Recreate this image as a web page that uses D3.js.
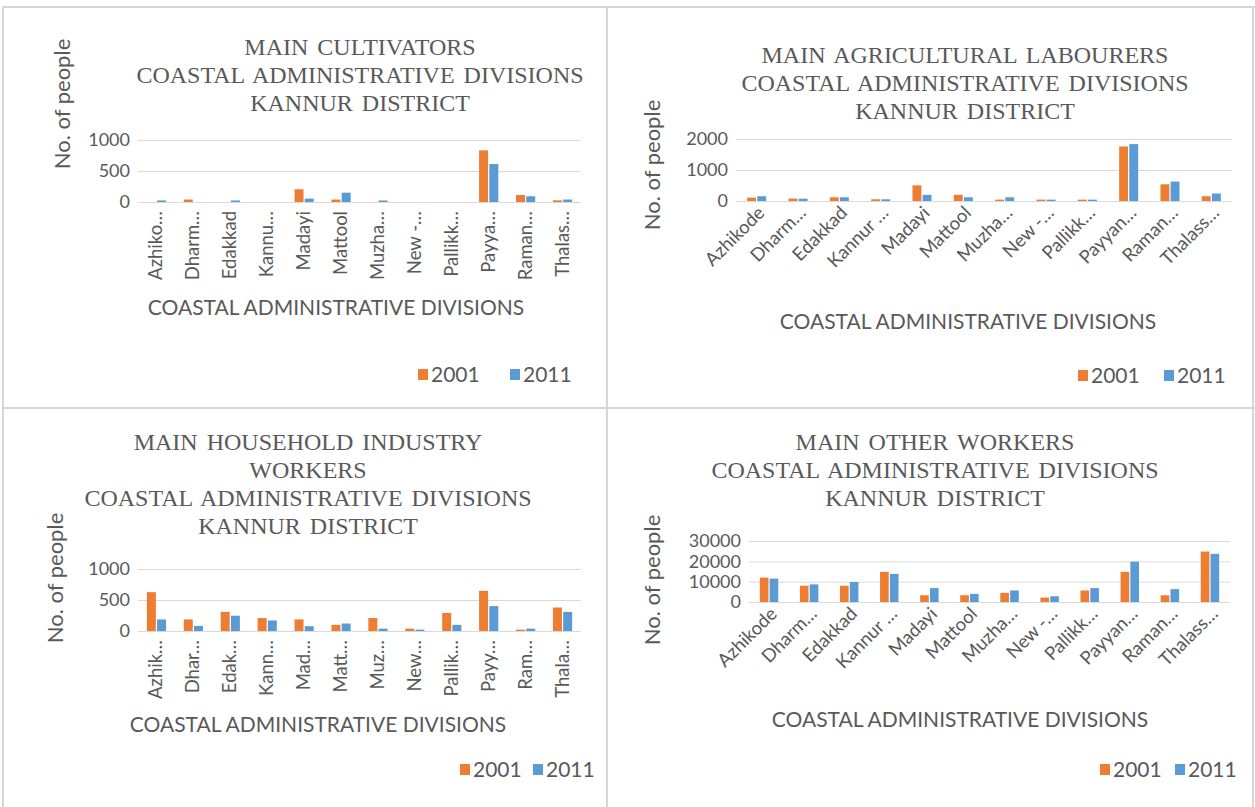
<!DOCTYPE html>
<meta charset="utf-8">
<style>
  body { margin: 0; background: #fff; }
  .title { font-family: "Liberation Serif", serif; font-size: 24px; fill: #595959; word-spacing: 3px; }
  .tick text { font-family: Lato, sans-serif; font-size: 18px; fill: #595959; }
  .catlabel { font-family: Lato, sans-serif; font-size: 18.5px; fill: #595959; }
  .axtitle { font-family: Lato, sans-serif; font-size: 21px; fill: #595959; }
  .ytitle { font-family: Lato, sans-serif; font-size: 22px; fill: #595959; }
  .legend text { font-family: Lato, sans-serif; font-size: 21px; fill: #595959; }
</style>
<body>
<svg width="1255" height="807"></svg>
<script src="https://d3js.org/d3.v7.min.js"></script>
<script>

// series names and colours
var years = ["2001", "2011"];
var yearColors = ["#ED7D31", "#5B9BD5"];

// category labels as printed on each chart (Excel truncates them)
var labelsCultivators = ["Azhiko…", "Dharm…", "Edakkad", "Kannu…", "Madayi", "Mattool", "Muzha…", "New -…", "Pallikk…", "Payya…", "Raman…", "Thalas…"];
var labelsAgri = ["Azhikode", "Dharm…", "Edakkad", "Kannur …", "Madayi", "Mattool", "Muzha…", "New -…", "Pallikk…", "Payyan…", "Raman…", "Thalass…"];
var labelsHousehold = ["Azhik…", "Dhar…", "Edak…", "Kann…", "Mad…", "Matt…", "Muz…", "New…", "Pallik…", "Payy…", "Ram…", "Thala…"];
var labelsOther = ["Azhikode", "Dharm…", "Edakkad", "Kannur …", "Madayi", "Mattool", "Muzha…", "New -…", "Pallikk…", "Payyan…", "Raman…", "Thalass…"];

// values
var cultivators2001 = [0, 40, 0, 0, 205, 40, 0, 0, 0, 833, 113, 27];
var cultivators2011 = [25, 0, 25, 0, 55, 150, 25, 0, 0, 613, 92, 40];
var agri2001 = [110, 80, 120, 55, 505, 198, 44, 44, 44, 1758, 538, 154];
var agri2011 = [154, 75, 120, 55, 198, 120, 120, 44, 44, 1835, 626, 242];
var household2001 = [626, 187, 308, 209, 187, 99, 209, 38, 291, 648, 22, 379];
var household2011 = [187, 82, 247, 170, 77, 121, 38, 22, 99, 401, 38, 308];
var other2001 = [12000, 8000, 8000, 14830, 3330, 3330, 4500, 2170, 5670, 14830, 3330, 24830];
var other2011 = [11500, 8670, 9830, 13830, 6830, 4000, 5670, 2830, 6830, 19830, 6330, 23670];

// axis ticks
var ticksCultivators = [0, 500, 1000];
var ticksAgri = [0, 1000, 2000];
var ticksHousehold = [0, 500, 1000];
var ticksOther = [0, 10000, 20000, 30000];

var titleCultivators = ["MAIN  CULTIVATORS", "COASTAL  ADMINISTRATIVE  DIVISIONS", "KANNUR DISTRICT"];
var titleAgri = ["MAIN  AGRICULTURAL  LABOURERS", "COASTAL  ADMINISTRATIVE  DIVISIONS", "KANNUR DISTRICT"];
var titleHousehold = ["MAIN  HOUSEHOLD INDUSTRY", "WORKERS", "COASTAL  ADMINISTRATIVE  DIVISIONS", "KANNUR DISTRICT"];
var titleOther = ["MAIN  OTHER WORKERS", "COASTAL  ADMINISTRATIVE  DIVISIONS", "KANNUR DISTRICT"];

var svg = d3.select("svg");

// panel frames
var frame = svg.append("g").attr("stroke", "#d6d6d6").attr("stroke-width", 2).attr("fill", "none");
frame.append("line").attr("x1", 3).attr("x2", 1255).attr("y1", 7).attr("y2", 7);
frame.append("line").attr("x1", 3).attr("x2", 3).attr("y1", 7).attr("y2", 807);
frame.append("line").attr("x1", 607).attr("x2", 607).attr("y1", 7).attr("y2", 807);
frame.append("line").attr("x1", 3).attr("x2", 1255).attr("y1", 408).attr("y2", 408);
frame.append("line").attr("x1", 1253).attr("x2", 1253).attr("y1", 7).attr("y2", 807);

function drawPanel(p) {
    var g = svg.append("g");
    var cats = p.labels.map(function (d, i) { return i; });

    var x0 = d3.scaleBand().domain(cats).range([p.left, p.right]).paddingInner(p.pad).paddingOuter(p.pad / 2);
    var x1 = d3.scaleBand().domain(years).range([0, x0.bandwidth()]).paddingInner(0.12);
    var y = d3.scaleLinear().domain([0, d3.max(p.ticks)]).range([p.base, p.top]);

    // title
    g.selectAll(".title").data(p.title).enter().append("text")
        .attr("class", "title")
        .attr("x", p.titleX)
        .attr("y", function (d, i) { return p.titleY + i * 28; })
        .attr("text-anchor", "middle")
        .attr("dy", "0.35em")
        .text(function (d) { return d; });

    // gridlines + tick labels
    var yAxis = d3.axisLeft(y).tickValues(p.ticks).tickSize(-(p.right - p.left)).tickPadding(8).tickFormat(d3.format("d"));
    var ax = g.append("g").attr("transform", "translate(" + p.left + ",0)").call(yAxis);
    ax.select(".domain").remove();
    ax.selectAll(".tick line").attr("stroke", "#d9d9d9");
    ax.selectAll(".tick text").attr("x", -8);

    // bars
    var series = [p.v2001, p.v2011];
    years.forEach(function (yr, k) {
        g.selectAll(".bar" + yr).data(series[k]).enter().append("rect")
            .attr("x", function (d, i) { return x0(i) + x1(yr); })
            .attr("width", x1.bandwidth())
            .attr("y", function (d) { return y(d); })
            .attr("height", function (d) { return p.base - y(d); })
            .attr("fill", yearColors[k]);
    });

    // category labels
    g.selectAll(".catlabel").data(p.labels).enter().append("text")
        .attr("class", "catlabel")
        .attr("text-anchor", "end")
        .attr("transform", function (d, i) {
            var cx = x0(i) + x0.bandwidth() / 2;
            if (p.rot === -90) return "translate(" + (cx + 6) + "," + (p.base + 9) + ") rotate(-90)";
            return "translate(" + (cx + 9) + "," + (p.base + 13) + ") rotate(-45)";
        })
        .text(function (d) { return d; });

    // axis titles
    g.append("text").attr("class", "axtitle")
        .attr("x", p.xTitle[0]).attr("y", p.xTitle[1])
        .attr("text-anchor", "middle").attr("dy", "0.35em")
        .text("COASTAL ADMINISTRATIVE DIVISIONS");

    g.append("text").attr("class", "ytitle")
        .attr("transform", "translate(" + p.yTitle[0] + "," + p.yTitle[1] + ") rotate(-90)")
        .attr("text-anchor", "middle").attr("dy", "0.35em")
        .text("No. of people");

    // legend
    var leg = g.append("g").attr("class", "legend");
    years.forEach(function (yr, k) {
        leg.append("rect").attr("x", p.legendX[k]).attr("y", p.legendY - 6).attr("width", 10).attr("height", 11).attr("fill", yearColors[k]);
        leg.append("text").attr("x", p.legendX[k] + 13).attr("y", p.legendY).attr("dy", "0.35em").text(yr);
    });
}

drawPanel({
    labels: labelsCultivators, v2001: cultivators2001, v2011: cultivators2011, ticks: ticksCultivators, title: titleCultivators,
    left: 138, right: 581, top: 140, base: 202, pad: 0.48, rot: -90,
    titleX: 360, titleY: 47, xTitle: [336, 308], yTitle: [62, 104], legendX: [418, 510], legendY: 375
});
drawPanel({
    labels: labelsAgri, v2001: agri2001, v2011: agri2011, ticks: ticksAgri, title: titleAgri,
    left: 736, right: 1232, top: 139, base: 201, pad: 0.54, rot: -45,
    titleX: 965, titleY: 55, xTitle: [968, 322], yTitle: [652, 165], legendX: [1078, 1164], legendY: 376
});
drawPanel({
    labels: labelsHousehold, v2001: household2001, v2011: household2011, ticks: ticksHousehold, title: titleHousehold,
    left: 138, right: 581, top: 569, base: 631, pad: 0.48, rot: -90,
    titleX: 308, titleY: 442, xTitle: [318, 725], yTitle: [55, 578], legendX: [460, 533], legendY: 770
});
drawPanel({
    labels: labelsOther, v2001: other2001, v2011: other2011, ticks: ticksOther, title: titleOther,
    left: 749, right: 1230, top: 541, base: 602, pad: 0.54, rot: -45,
    titleX: 935, titleY: 442, xTitle: [960, 720], yTitle: [652, 580], legendX: [1100, 1175], legendY: 770
});

</script>
</body>
